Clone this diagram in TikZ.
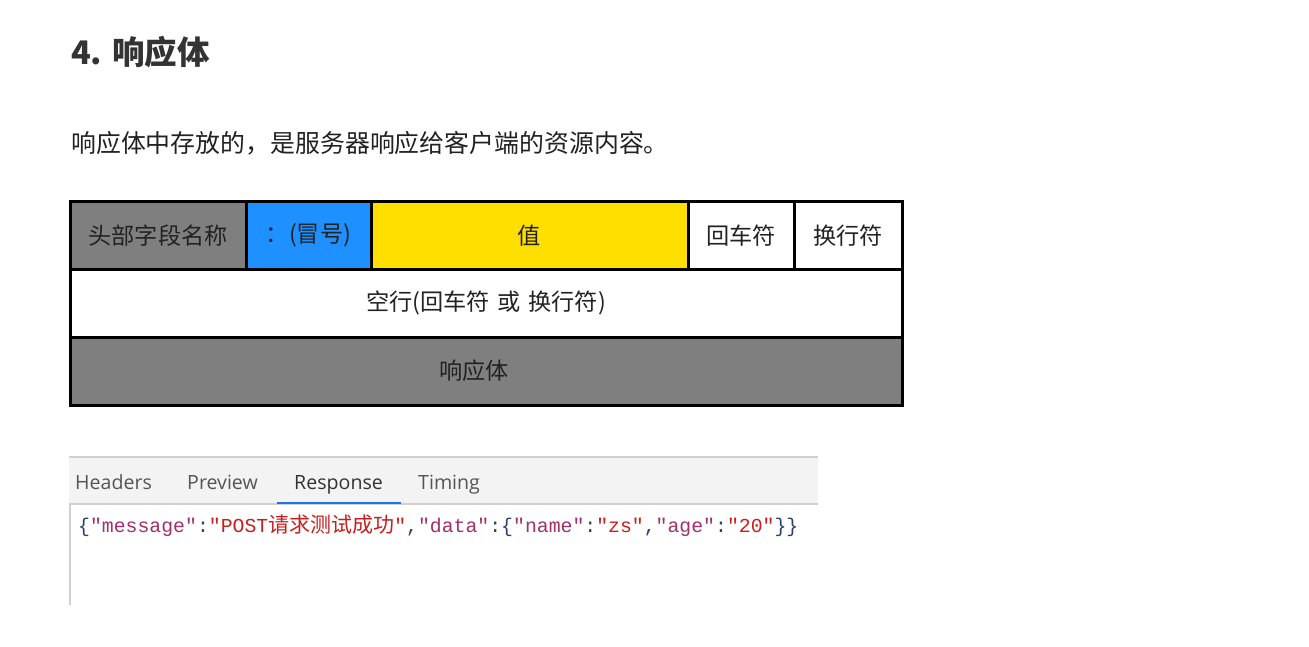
\documentclass[tikz,border=0pt]{standalone}
\usepackage{fontspec}
\setmainfont{Noto Sans CJK SC}
\newfontfamily\monof{Liberation Mono}
\newfontfamily\cjkf{Noto Sans CJK SC}
\newfontfamily\tabf{Open Sans}
\definecolor{titlegray}{HTML}{333333}
\definecolor{bodytext}{HTML}{222222}
\definecolor{cellgray}{HTML}{7F7F7F}
\definecolor{cellblue}{HTML}{1E90FF}
\definecolor{cellyellow}{HTML}{FFDF00}
\definecolor{barfill}{HTML}{F3F3F3}
\definecolor{barline}{HTML}{D0D0D0}
\definecolor{tabtext}{HTML}{555555}
\definecolor{tabblue}{HTML}{1A73E8}
\definecolor{jkeyc}{HTML}{A0306E}
\definecolor{jstrc}{HTML}{C81E1E}
\definecolor{jpc}{HTML}{2A3F6E}
\newcommand\jkey[1]{\textcolor{jkeyc}{#1}}
\newcommand\jstr[1]{\textcolor{jstrc}{#1}}
\newcommand\jp[1]{\textcolor{jpc}{#1}}
\tikzset{
  cell/.style={draw=black, line width=3pt, inner sep=0pt, minimum height=67pt,
    font=\fontsize{23.2}{23.2}\selectfont, text=bodytext},
  plain/.style={inner sep=0pt, anchor=west},
  tab/.style={inner sep=0pt, anchor=base west, font=\tabf\fontsize{19.6}{19.6}\selectfont, text=tabtext}
}
\begin{document}
\begin{tikzpicture}[x=1pt,y=-1pt]
\useasboundingbox (0,0) rectangle (1309,647);
\fill[white] (0,0) rectangle (1309,647);

% title and paragraph
\node[plain, font=\fontsize{32.5}{32.5}\selectfont\bfseries, text=titlegray] (title) at (71,52) {4. 响应体};
\node[plain, font=\fontsize{24.9}{24.9}\selectfont, text=bodytext] (para) at (71,143) {响应体中存放的，是服务器响应给客户端的资源内容。};

% table
\node[cell, fill=cellgray, minimum width=176pt] (h1) at (158,235.5) {头部字段名称};
\node[cell, fill=cellblue, minimum width=125pt] (h2) at (308.5,235.5) {：(冒号)};
\node[cell, fill=cellyellow, minimum width=317pt] (h3) at (529.5,235.5) {值};
\node[cell, fill=white, minimum width=106pt] (h4) at (741,235.5) {回车符};
\node[cell, fill=white, minimum width=108pt] (h5) at (848,235.5) {换行符};
\node[cell, fill=white, minimum width=832pt, minimum height=68pt] (blank) at (486,303) {空行(回车符\,\,或\,\,换行符)};
\node[cell, fill=cellgray, minimum width=832pt, minimum height=68pt] (body) at (486,371) {};
\node[inner sep=0pt, font=\fontsize{23.2}{23.2}\selectfont, text=bodytext] (bodytxt) at (474,371) {响应体};

% devtools panel
\fill[barfill] (69,457) rectangle (818,504);
\draw[barline, line width=1.2pt] (69,457) -- (818,457);
\draw[barline, line width=1.2pt] (69,504) -- (818,504);
\draw[barline, line width=1.2pt] (70,504) -- (70,605);
\node[tab] (headers) at (75,489) {Headers};
\node[tab] (preview) at (187,489) {Preview};
\node[tab, text=titlegray] (response) at (294,489) {Response};
\node[tab] (timing) at (418,489) {Timing};
\draw[tabblue, line width=2.5pt] (277,503) -- (401,503);

\node[plain, font=\monof\fontsize{19.8}{19.8}\selectfont] (json) at (78,526)
 {\jp{\{}\jkey{"message"}\jp{:}\jstr{"POST{\cjkf\fontsize{21}{21}\selectfont 请求测试成功}"}\jp{,}\jkey{"data"}\jp{:\{}\jkey{"name"}\jp{:}\jstr{"zs"}\jp{,}\jkey{"age"}\jp{:}\jstr{"20"}\jp{\}\}}};
\end{tikzpicture}
\end{document}
